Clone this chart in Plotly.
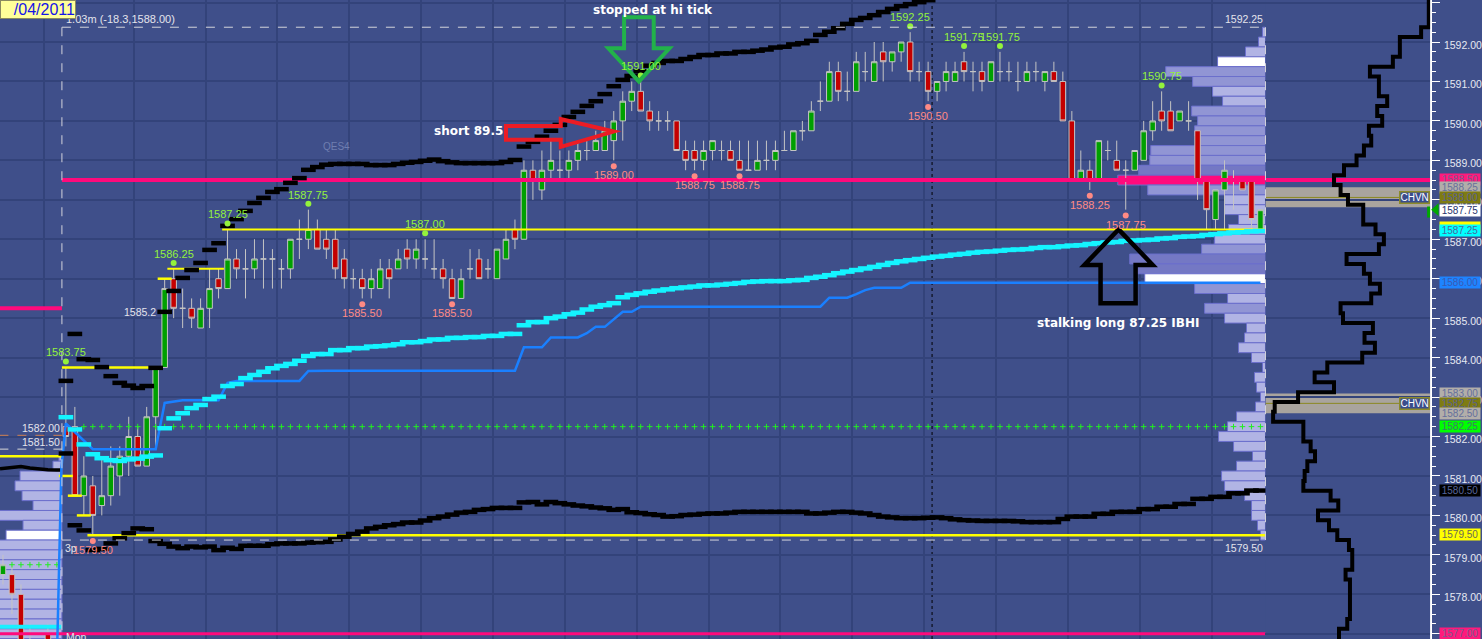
import numpy as np
import plotly.graph_objects as go

# ---------------- data ----------------
bar_index = list(range(134))
opens = [1582.25, 1582.25, 1580.5, 1580.75, 1580.25, 1580.5, 1581.0, 1581.5, 1582.0, 1581.25,
         1582.5, 1583.75, 1586.0, 1585.25, 1585.25, 1584.75, 1585.25, 1586.0, 1585.75, 1586.5,
         1586.25, 1586.25, 1586.5, 1586.5, 1586.25, 1586.25, 1587.0, 1587.0, 1587.25, 1587.0,
         1587.0, 1586.5, 1586.0, 1586.0, 1585.75, 1585.75, 1586.25, 1586.25, 1586.75, 1586.5,
         1586.5, 1586.25, 1586.25, 1586.0, 1585.5, 1586.25, 1586.5, 1586.25, 1586.0, 1586.5,
         1587.25, 1587.0, 1588.75, 1588.25, 1588.75, 1588.75, 1588.75, 1589.0, 1589.25, 1589.25,
         1589.25, 1589.5, 1590.0, 1590.5, 1590.75, 1590.25, 1590.0, 1590.0, 1590.0, 1589.25,
         1589.25, 1589.0, 1589.25, 1589.25, 1589.25, 1589.0, 1588.75, 1588.75, 1589.0, 1589.0,
         1589.25, 1589.25, 1589.75, 1589.75, 1590.5, 1590.5, 1591.25, 1590.75, 1590.75, 1591.25,
         1591.0, 1591.75, 1591.5, 1591.75, 1592.0, 1591.25, 1591.25, 1590.75, 1591.0, 1591.0,
         1591.5, 1591.25, 1591.25, 1591.0, 1591.25, 1591.25, 1591.0, 1591.0, 1591.25, 1591.0,
         1591.25, 1591.0, 1590.0, 1588.5, 1588.75, 1588.5, 1589.25, 1589.0, 1588.75, 1588.75,
         1589.0, 1589.75, 1590.25, 1590.25, 1590.0, 1590.0, 1589.75, 1588.5, 1587.5, 1588.25,
         1588.5, 1588.5, 1588.5, 1587.25]
highs = [1583.75, 1582.75, 1581.5, 1581.0, 1581.5, 1581.75, 1581.75, 1582.5, 1582.25, 1582.75,
         1583.75, 1586.0, 1586.25, 1585.75, 1585.5, 1585.5, 1586.25, 1586.25, 1587.25, 1586.75,
         1586.75, 1587.0, 1587.0, 1586.75, 1586.5, 1587.0, 1587.5, 1587.75, 1587.5, 1587.25,
         1587.25, 1586.75, 1586.25, 1586.25, 1586.25, 1586.5, 1586.5, 1586.75, 1587.0, 1587.0,
         1587.0, 1587.0, 1586.5, 1586.25, 1586.25, 1586.75, 1586.75, 1586.5, 1586.75, 1587.25,
         1587.5, 1589.0, 1589.0, 1589.25, 1589.5, 1589.25, 1589.25, 1589.5, 1589.5, 1589.75,
         1590.0, 1590.25, 1590.75, 1591.0, 1591.0, 1590.5, 1590.25, 1590.25, 1590.0, 1589.5,
         1589.5, 1589.5, 1589.5, 1589.5, 1589.5, 1589.5, 1589.5, 1589.5, 1589.5, 1589.5,
         1589.75, 1589.75, 1590.0, 1590.5, 1591.0, 1591.5, 1591.5, 1591.25, 1591.75, 1591.75,
         1592.0, 1592.0, 1591.75, 1592.0, 1592.25, 1591.5, 1591.5, 1591.0, 1591.5, 1591.5,
         1591.75, 1591.5, 1591.5, 1591.5, 1591.75, 1591.5, 1591.5, 1591.5, 1591.5, 1591.25,
         1591.5, 1591.25, 1590.25, 1589.25, 1589.0, 1589.5, 1589.5, 1589.5, 1589.0, 1589.25,
         1590.0, 1590.5, 1590.75, 1590.5, 1590.25, 1590.5, 1589.75, 1588.5, 1588.25, 1589.0,
         1588.75, 1588.5, 1588.5, 1587.75]
lows = [1581.75, 1580.5, 1580.0, 1579.5, 1580.0, 1580.25, 1580.5, 1581.0, 1581.25, 1581.25,
        1581.75, 1583.75, 1585.0, 1584.75, 1584.75, 1584.75, 1584.75, 1585.5, 1585.75, 1586.0,
        1585.5, 1586.0, 1585.75, 1585.75, 1585.75, 1586.0, 1586.5, 1586.75, 1586.75, 1586.5,
        1586.0, 1585.75, 1585.75, 1585.5, 1585.5, 1585.75, 1585.5, 1586.25, 1586.25, 1586.25,
        1586.25, 1586.0, 1585.75, 1585.5, 1585.5, 1586.0, 1586.0, 1586.0, 1586.0, 1586.5,
        1586.75, 1587.0, 1588.0, 1588.0, 1588.5, 1588.5, 1588.5, 1588.75, 1589.0, 1589.25,
        1589.25, 1589.0, 1589.5, 1590.25, 1590.25, 1589.75, 1589.75, 1589.75, 1589.25, 1588.75,
        1588.75, 1588.75, 1589.0, 1589.0, 1589.0, 1588.75, 1588.75, 1588.75, 1588.75, 1588.75,
        1589.25, 1589.25, 1589.5, 1589.75, 1590.25, 1590.5, 1590.5, 1590.5, 1590.75, 1591.0,
        1591.0, 1591.0, 1591.25, 1591.5, 1591.0, 1591.0, 1590.5, 1590.5, 1590.75, 1591.0,
        1591.0, 1590.75, 1590.75, 1591.0, 1591.0, 1591.0, 1590.75, 1591.0, 1591.0, 1590.75,
        1591.0, 1590.0, 1588.5, 1588.5, 1588.25, 1588.5, 1589.0, 1588.75, 1587.75, 1588.75,
        1589.0, 1589.5, 1589.75, 1589.75, 1590.0, 1589.75, 1588.0, 1587.25, 1587.25, 1587.25,
        1587.75, 1588.25, 1587.25, 1587.25]
closes = [1582.0, 1580.5, 1581.0, 1580.0, 1580.5, 1581.25, 1581.5, 1582.0, 1581.25, 1582.5,
          1583.75, 1585.75, 1585.25, 1585.25, 1585.0, 1585.25, 1585.75, 1585.75, 1586.5, 1586.25,
          1586.25, 1586.5, 1586.5, 1586.5, 1586.25, 1587.0, 1587.0, 1587.25, 1586.75, 1586.75,
          1586.25, 1586.0, 1586.0, 1585.75, 1586.0, 1586.25, 1586.0, 1586.5, 1586.5, 1586.75,
          1586.5, 1586.25, 1586.0, 1585.5, 1586.0, 1586.25, 1586.0, 1586.25, 1586.75, 1587.0,
          1587.0, 1588.75, 1588.5, 1588.75, 1589.0, 1588.75, 1589.0, 1589.25, 1589.25, 1589.5,
          1589.75, 1590.0, 1590.5, 1590.75, 1590.25, 1590.0, 1590.0, 1590.0, 1589.25, 1589.0,
          1589.0, 1589.25, 1589.5, 1589.25, 1589.0, 1588.75, 1588.75, 1589.0, 1589.0, 1589.25,
          1589.25, 1589.75, 1589.75, 1590.25, 1590.5, 1591.25, 1590.75, 1590.75, 1591.5, 1591.25,
          1591.5, 1591.5, 1591.75, 1592.0, 1591.25, 1591.25, 1590.75, 1591.0, 1591.25, 1591.25,
          1591.25, 1591.25, 1591.0, 1591.5, 1591.25, 1591.25, 1591.0, 1591.25, 1591.25, 1591.25,
          1591.0, 1590.0, 1588.5, 1588.75, 1588.5, 1589.5, 1589.25, 1588.75, 1588.75, 1589.25,
          1589.75, 1590.0, 1590.0, 1589.75, 1590.25, 1590.0, 1588.5, 1587.75, 1588.25, 1588.75,
          1588.5, 1588.25, 1587.5, 1587.75]

# previous session (left edge)
prev_index = [-7, -6, -5, -4, -2]
prev_open = [1578.5, 1578.5, 1578.0, 1576.75, 1577.0]
prev_high = [1579.0, 1578.75, 1578.25, 1577.25, 1577.25]
prev_low = [1578.25, 1577.5, 1576.25, 1576.25, 1576.25]
prev_close = [1578.75, 1578.0, 1576.5, 1576.5, 1576.5]

upper_band = [1583.41, 1584.60, 1583.96, 1583.94, 1583.76, 1583.53, 1583.36, 1583.29, 1583.23, 1583.28,
              1583.74, 1585.16, 1585.69, 1586.02, 1586.22, 1586.40, 1586.73, 1586.90, 1587.34, 1587.51,
              1587.72, 1587.92, 1588.05, 1588.20, 1588.27, 1588.43, 1588.55, 1588.76, 1588.83, 1588.89,
              1588.91, 1588.91, 1588.91, 1588.91, 1588.88, 1588.88, 1588.88, 1588.91, 1588.94, 1588.96,
              1588.99, 1589.02, 1588.98, 1588.95, 1588.93, 1588.93, 1588.93, 1588.93, 1588.93, 1588.96,
              1589.01, 1589.35, 1589.47, 1589.60, 1589.75, 1589.90, 1590.10, 1590.23, 1590.38, 1590.50,
              1590.68, 1590.88, 1591.04, 1591.14, 1591.26, 1591.40, 1591.47, 1591.52, 1591.52, 1591.57,
              1591.62, 1591.67, 1591.67, 1591.71, 1591.71, 1591.75, 1591.75, 1591.78, 1591.81, 1591.86,
              1591.88, 1591.94, 1591.97, 1592.03, 1592.18, 1592.26, 1592.35, 1592.46, 1592.56, 1592.61,
              1592.68, 1592.76, 1592.84, 1592.91, 1592.96, 1593.01, 1593.06]
lower_band = [1581.57, 1579.75, 1579.62, 1579.12, 1579.15, 1579.29, 1579.42, 1579.55, 1579.67, 1579.65,
              1579.35, 1579.28, 1579.21, 1579.17, 1579.21, 1579.19, 1579.21, 1579.12, 1579.18, 1579.15,
              1579.23, 1579.23, 1579.23, 1579.27, 1579.29, 1579.29, 1579.29, 1579.31, 1579.32, 1579.33,
              1579.39, 1579.46, 1579.53, 1579.59, 1579.67, 1579.71, 1579.75, 1579.78, 1579.82, 1579.82,
              1579.87, 1579.93, 1579.97, 1580.02, 1580.07, 1580.09, 1580.14, 1580.16, 1580.19, 1580.19,
              1580.19, 1580.33, 1580.34, 1580.28, 1580.34, 1580.31, 1580.28, 1580.25, 1580.23, 1580.20,
              1580.18, 1580.14, 1580.16, 1580.08, 1580.06, 1580.03, 1580.01, 1579.97, 1579.98, 1580.01,
              1580.02, 1580.04, 1580.05, 1580.05, 1580.07, 1580.09, 1580.09, 1580.09, 1580.09, 1580.09,
              1580.09, 1580.09, 1580.09, 1580.05, 1580.05, 1580.07, 1580.09, 1580.09, 1580.07, 1580.05,
              1580.01, 1579.97, 1579.95, 1579.93, 1579.93, 1579.93, 1579.94, 1579.95, 1579.93, 1579.90,
              1579.88, 1579.87, 1579.86, 1579.86, 1579.86, 1579.86, 1579.85, 1579.83, 1579.83, 1579.83,
              1579.83, 1579.91, 1579.97, 1579.97, 1579.97, 1580.04, 1580.04, 1580.09, 1580.09, 1580.09,
              1580.16, 1580.16, 1580.22, 1580.22, 1580.29, 1580.29, 1580.42, 1580.42, 1580.47, 1580.47,
              1580.56, 1580.56, 1580.63, 1580.63]
vwap = [1582.49, 1582.18, 1581.80, 1581.55, 1581.45, 1581.40, 1581.38, 1581.42, 1581.44, 1581.49,
        1581.52, 1582.21, 1582.46, 1582.59, 1582.72, 1582.80, 1582.95, 1583.01, 1583.28, 1583.33,
        1583.48, 1583.56, 1583.64, 1583.73, 1583.79, 1583.84, 1583.92, 1584.04, 1584.09, 1584.09,
        1584.19, 1584.19, 1584.24, 1584.24, 1584.28, 1584.29, 1584.31, 1584.34, 1584.39, 1584.39,
        1584.42, 1584.46, 1584.46, 1584.50, 1584.50, 1584.52, 1584.52, 1584.55, 1584.55, 1584.60,
        1584.60, 1584.82, 1584.90, 1584.90, 1585.00, 1585.04, 1585.10, 1585.14, 1585.22, 1585.29,
        1585.33, 1585.38, 1585.53, 1585.59, 1585.63, 1585.67, 1585.70, 1585.73, 1585.76, 1585.78,
        1585.80, 1585.83, 1585.83, 1585.85, 1585.87, 1585.89, 1585.92, 1585.93, 1585.94, 1585.94,
        1585.94, 1585.96, 1585.97, 1586.02, 1586.05, 1586.09, 1586.14, 1586.18, 1586.22, 1586.26,
        1586.30, 1586.35, 1586.40, 1586.44, 1586.47, 1586.50, 1586.53, 1586.56, 1586.58, 1586.61,
        1586.63, 1586.66, 1586.68, 1586.69, 1586.71, 1586.73, 1586.74, 1586.75, 1586.78, 1586.80,
        1586.80, 1586.82, 1586.84, 1586.85, 1586.88, 1586.90, 1586.92, 1586.93, 1586.96, 1586.97,
        1586.98, 1586.99, 1587.02, 1587.03, 1587.06, 1587.07, 1587.08, 1587.11, 1587.13, 1587.15,
        1587.17, 1587.18, 1587.20, 1587.21]
blue_line = [1582.33, 1582.11, 1581.89, 1581.68, 1581.68, 1581.68, 1581.68, 1581.68, 1581.68, 1581.68,
             1581.68, 1582.85, 1582.88, 1582.92, 1582.92, 1582.92, 1582.92, 1582.92, 1583.36, 1583.41,
             1583.41, 1583.41, 1583.41, 1583.41, 1583.41, 1583.41, 1583.41, 1583.66, 1583.67, 1583.67,
             1583.67, 1583.67, 1583.67, 1583.67, 1583.67, 1583.67, 1583.67, 1583.67, 1583.67, 1583.67,
             1583.67, 1583.67, 1583.67, 1583.67, 1583.67, 1583.67, 1583.67, 1583.67, 1583.67, 1583.67,
             1583.67, 1584.26, 1584.26, 1584.26, 1584.51, 1584.51, 1584.51, 1584.51, 1584.62, 1584.78,
             1584.78, 1584.98, 1585.16, 1585.16, 1585.29, 1585.29, 1585.29, 1585.29, 1585.29, 1585.29,
             1585.29, 1585.29, 1585.29, 1585.29, 1585.29, 1585.29, 1585.29, 1585.29, 1585.29, 1585.29,
             1585.29, 1585.29, 1585.29, 1585.29, 1585.29, 1585.52, 1585.52, 1585.52, 1585.61, 1585.71,
             1585.77, 1585.77, 1585.77, 1585.77, 1585.90, 1585.90, 1585.90, 1585.90, 1585.90, 1585.90,
             1585.90, 1585.90, 1585.90, 1585.90, 1585.90, 1585.90, 1585.90, 1585.90, 1585.90, 1585.90,
             1585.90, 1585.90, 1585.90, 1585.90, 1585.90, 1585.90, 1585.90, 1585.90, 1585.90, 1585.90,
             1585.90, 1585.90, 1585.90, 1585.90, 1585.90, 1585.90, 1585.90, 1585.90, 1585.90, 1585.90,
             1585.90, 1585.90, 1585.90, 1585.90]
blue_prev_index = [-0.95, -0.5]
blue_prev = [1576.80, 1581.20]
prev_band_index = [-7.33, -6, -5, -4, -3, -2, -1, -0.44]
prev_band = [1581.18, 1581.22, 1581.24, 1581.20, 1581.17, 1581.16, 1581.15, 1581.15]
prev_vwap = 1577.18

# volume profile (main session) and previous session profile
profile_volume = [3, 7, 20, 48, 100, 73, 53, 43, 74, 68,
                  71, 70, 115, 116, 127, 148, 118, 41, 41, 27,
                  37, 51, 64, 136, 128, 121, 71, 38, 61, 41,
                  19, 21, 27, 14, 3, 11, 9, 5, 10, 29,
                  38, 47, 32, 13, 29, 44, 41, 21, 14, 14,
                  8, 5]
profile_top, profile_bottom = 1592.25, 1579.50
prev_profile_volume = [3, 9, 42, 47, 40, 29, 70, 39, 56, 70,
                       70, 70, 70, 70, 70, 70, 70, 70, 70, 70]
prev_profile_top = 1581.50

# TPO-style profile in the right panel
tpo_top = 1593.0
tpo_count = [163.7, 163.7, 163.7, 156, 134.7, 134.7, 127.7, 104.7, 113.7, 113.7,
             122, 112, 117, 103.7, 106, 98.7, 91.3, 78.7, 68.7, 75.3,
             82.7, 98, 98, 110.3, 118.7, 113.7, 81.3, 98.7, 104.7, 114.7,
             106, 75.3, 77.7, 107.7, 99.3, 109.7, 97, 62, 49.3, 68.7,
             32.7, 9.3, 7.7, 38, 38, 45.3, 49.7, 42, 39.3, 38,
             65.3, 73, 52.7, 63.7, 72, 83.7, 87, 87, 80.3, 84.7,
             84.7, 84.7, 84.7, 82, 73.7, 73.7]

high_label_bars = [0, 12, 18, 27, 40, 64, 94, 100, 104, 122]
low_label_bars = [3, 33, 43, 61, 70, 75, 96, 114, 118]

# reference levels: price, start bar, end bar, colour, width
level_price = [1588.50, 1577.00, 1585.25, 1587.25, 1586.25, 1583.75, 1579.50, 1581.50]
level_start = [-0.44, -7.4, -7.4, 17.4, 11.3, -0.44, 2.4, -7.4]
level_end = [151.9, 151.9, -0.44, 133.56, 17.6, 10.7, 133.56, -0.44]
level_color = ['#ff0a7c', '#ff0a7c', '#ff0a7c', '#ffff00', '#ffff00', '#ffff00', '#ffff00', '#ffff00']
level_width = [4, 3, 4, 2, 2, 2.5, 2.5, 2.5]
mini_tick_bar = [0, 1, 2, 11]
mini_tick_price = [1581.0, 1580.5, 1580.0, 1586.0]
green_dot_level = 1582.25
prev_green_dot_level = 1578.75

chvn_bands = [(1587.81, 1588.32, 1588.06), (1582.59, 1583.09, 1582.84)]

axis_labels = [(1588.52, '1588.50', '#ff1a7c', '#7b5c8e'),
               (1588.31, '1588.25', '#b2aea9', '#66709c'),
               (1588.06, '1588.00', '#7e7b12', '#59618d'),
               (1587.74, '1587.75', '#ffffff', '#27336e'),
               (1587.30, '', '#ffff00', '#ffff00'),
               (1587.21, '1587.25', '#00ffff', '#4a67a0'),
               (1585.90, '1586.00', '#1e84ff', '#3a5ab4'),
               (1583.09, '1583.00', '#b2aea9', '#66709c'),
               (1582.84, '1582.75', '#7e7b12', '#59618d'),
               (1582.59, '1582.50', '#b2aea9', '#66709c'),
               (1582.25, '1582.25', '#00ff00', '#3f7a6a'),
               (1580.63, '1580.50', '#000000', '#56649a'),
               (1579.52, '1579.50', '#ffff00', '#6a6a55'),
               (1577.00, '1577.00', '#ff1a7c', '#7b5c8e')]

# ---------------- geometry / style ----------------
W, H = 1482, 639
AXIS_X = 1433 / W
TPO_X = 1268 / W
X_LEFT, X_RIGHT = -7.3333, 151.8889
Y_LOW, Y_HIGH = 1576.867, 1593.065
PROFILE_EDGE = 133.56
SESSION_EDGE = -0.44
VOL_SCALE = 1 / 9.0
TICK = 0.25
BG = '#3f4f8a'
GRID = '#33437a'
LIME = '#93f23c'
SALMON = '#ff8a84'
LABEL_FONT = 'Liberation Sans'

opens_a, highs_a, lows_a, closes_a = map(np.array, (opens, highs, lows, closes))

fig = go.Figure()

# profile bars
prof_prices = profile_top - TICK * np.arange(len(profile_volume))
vol = np.array(profile_volume, float)
prof_colors = []
for k, v in enumerate(vol):
    if v >= 125:
        prof_colors.append('#7478c4')
    elif v >= 60:
        prof_colors.append('#9195d4')
    else:
        prof_colors.append('#b1b4e4')
poc_k = int(np.argmax(vol))
prof_colors[poc_k] = '#ff0a7c'
for k in (3, 25):
    prof_colors[k] = '#ffffff'
fig.add_trace(go.Bar(orientation='h', y=prof_prices, x=vol * VOL_SCALE,
                     base=PROFILE_EDGE - vol * VOL_SCALE, width=TICK,
                     marker=dict(color=prof_colors, line=dict(color='#6b6fcc', width=1)),
                     hoverinfo='skip'))
pv = np.array(prev_profile_volume, float)
pprices = prev_profile_top - TICK * np.arange(len(pv))
pcol = ['#b1b4e4'] * len(pv)
pcol[8] = '#ffffff'
fig.add_trace(go.Bar(orientation='h', y=pprices, x=pv * VOL_SCALE,
                     base=SESSION_EDGE - pv * VOL_SCALE, width=TICK,
                     marker=dict(color=pcol, line=dict(color='#6b6fcc', width=1)),
                     hoverinfo='skip'))

# candles
fig.add_trace(go.Candlestick(
    x=prev_index + bar_index,
    open=prev_open + opens, high=prev_high + highs,
    low=prev_low + lows, close=prev_close + closes,
    increasing=dict(fillcolor='#00a000', line=dict(color='#c4c4c4', width=1)),
    decreasing=dict(fillcolor='#c40000', line=dict(color='#c4c4c4', width=1)),
    whiskerwidth=0, hoverinfo='skip'))

# level lines
for p, s, e, c, w in zip(level_price, level_start, level_end, level_color, level_width):
    fig.add_trace(go.Scatter(x=[s, e], y=[p, p], mode='lines',
                             line=dict(color=c, width=w), hoverinfo='skip'))
fig.add_trace(go.Scatter(x=mini_tick_bar, y=mini_tick_price, mode='markers',
                         marker=dict(symbol='line-ew', size=10, line=dict(color='#ffff00', width=2.5)),
                         hoverinfo='skip'))

# green dotted levels (hidden under candle bodies)
bmin = np.minimum(opens_a, closes_a)
bmax = np.maximum(opens_a, closes_a)
gx = [i for i in bar_index if not (bmin[i] <= green_dot_level <= bmax[i])]
fig.add_trace(go.Scatter(x=gx, y=[green_dot_level] * len(gx), mode='markers',
                         marker=dict(symbol='cross-thin', size=4, line=dict(color='#22ee22', width=1)),
                         hoverinfo='skip'))
px_ = [-6, -5, -4, -3, -2, -1]
fig.add_trace(go.Scatter(x=px_, y=[prev_green_dot_level] * len(px_), mode='markers',
                         marker=dict(symbol='cross-thin', size=4, line=dict(color='#22ee22', width=1)),
                         hoverinfo='skip'))

# previous session lines
fig.add_trace(go.Scatter(x=prev_band_index, y=prev_band, mode='lines',
                         line=dict(color='black', width=3.5), hoverinfo='skip'))
fig.add_trace(go.Scatter(x=[-7.4, SESSION_EDGE], y=[prev_vwap, prev_vwap], mode='lines',
                         line=dict(color='#19f0ff', width=4), hoverinfo='skip'))
fig.add_trace(go.Scatter(x=[-7.4, SESSION_EDGE], y=[1582.03, 1582.03], mode='lines',
                         line=dict(color='#d08050', width=1, dash='dash'), hoverinfo='skip'))
fig.add_trace(go.Scatter(x=[-7.4, SESSION_EDGE], y=[1581.68, 1581.68], mode='lines',
                         line=dict(color='#d8d8d8', width=1, dash='dash'), hoverinfo='skip'))

# blue developing line
fig.add_trace(go.Scatter(x=blue_prev_index + bar_index, y=blue_prev + blue_line, mode='lines',
                         line=dict(color='#1a80ff', width=2.5), hoverinfo='skip'))

# VWAP (cyan) and bands (black) as per-bar dashes
fig.add_trace(go.Scatter(x=bar_index, y=vwap, mode='markers',
                         marker=dict(symbol='line-ew', size=10.5, line=dict(color='#14f4ff', width=4.5)),
                         hoverinfo='skip'))
fig.add_trace(go.Scatter(x=list(range(len(upper_band))), y=upper_band, mode='markers',
                         marker=dict(symbol='line-ew', size=10.5, line=dict(color='black', width=4.5)),
                         hoverinfo='skip'))
fig.add_trace(go.Scatter(x=bar_index, y=lower_band, mode='markers',
                         marker=dict(symbol='line-ew', size=10.5, line=dict(color='black', width=4.5)),
                         hoverinfo='skip'))

# swing high / low dots
hx = high_label_bars
hy = [highs[i] + 0.15 for i in hx]
fig.add_trace(go.Scatter(x=hx, y=hy, mode='markers', marker=dict(color=LIME, size=6),
                         hoverinfo='skip'))
lx = low_label_bars
ly = [lows[i] - 0.15 for i in lx]
fig.add_trace(go.Scatter(x=lx, y=ly, mode='markers', marker=dict(color=SALMON, size=6),
                         hoverinfo='skip'))

# TPO line on the right panel
tpo_levels = tpo_top - TICK * np.arange(len(tpo_count))
tx, ty = [], []
for p, v in zip(tpo_levels, tpo_count):
    tx += [v, v]
    ty += [p + TICK / 2, p - TICK / 2]
fig.add_trace(go.Scatter(x=tx, y=ty, mode='lines', xaxis='x2', yaxis='y',
                         line=dict(color='black', width=4), hoverinfo='skip'))

# ---------------- shapes ----------------
shapes = []
for lo, hi, mid in chvn_bands:
    shapes.append(dict(type='rect', xref='x2', yref='y', x0=0, x1=165, y0=lo, y1=hi,
                       fillcolor='#a9a49e', line=dict(width=0), layer='below'))
    shapes.append(dict(type='line', xref='x2', yref='y', x0=0, x1=165, y0=mid, y1=mid,
                       line=dict(color='#8c8822', width=1), layer='below'))
# TPO panel continuation of the pink level
shapes.append(dict(type='line', xref='x2', yref='y', x0=0, x1=165, y0=1588.5, y1=1588.5,
                   line=dict(color='#ff0a7c', width=4), layer='below'))
box_top = profile_top + TICK / 2
box_bot = profile_bottom - TICK / 2
dash = dict(color='#d4d4dc', width=1, dash='dash')
shapes += [
    dict(type='line', x0=SESSION_EDGE, x1=PROFILE_EDGE, y0=box_top, y1=box_top, line=dash, layer='above'),
    dict(type='line', x0=SESSION_EDGE, x1=PROFILE_EDGE, y0=box_bot, y1=box_bot, line=dash, layer='above'),
    dict(type='line', x0=SESSION_EDGE, x1=SESSION_EDGE, y0=box_top, y1=Y_LOW, line=dash, layer='above'),
    dict(type='line', x0=PROFILE_EDGE, x1=PROFILE_EDGE, y0=box_top, y1=box_bot, line=dash, layer='above'),
    dict(type='line', x0=96.44, x1=96.44, y0=Y_LOW, y1=Y_HIGH,
         line=dict(color='black', width=1, dash='dot'), layer='below'),
]


def poly(pts):
    return 'M ' + ' L '.join(f'{x:.3f},{y:.3f}' for x, y in pts) + ' Z'


# green "stopped" arrow pointing at the high of bar 64
gx0, gy0 = 63.8, highs[64]
shapes.append(dict(type='path', layer='above', line=dict(color='#22b24a', width=4),
                   path=poly([(gx0 - 1.65, gy0 + 1.63), (gx0 + 1.65, gy0 + 1.63), (gx0 + 1.65, gy0 + 0.84),
                              (gx0 + 3.4, gy0 + 0.84), (gx0, gy0), (gx0 - 3.4, gy0 + 0.84),
                              (gx0 - 1.65, gy0 + 0.84)])))
# red "short" arrow
rx0, ry0 = 61.0, 1589.73
shapes.append(dict(type='path', layer='above', line=dict(color='#ec1c24', width=4),
                   path=poly([(rx0 - 12.0, ry0 + 0.14), (rx0 - 5.9, ry0 + 0.14), (rx0 - 5.9, ry0 + 0.32),
                              (rx0, ry0), (rx0 - 5.9, ry0 - 0.39), (rx0 - 5.9, ry0 - 0.21),
                              (rx0 - 12.0, ry0 - 0.21)])))
# black "stalking long" arrow pointing at IB high
bx0, by0 = 117.2, level_price[3]
shapes.append(dict(type='path', layer='above', line=dict(color='black', width=4.5),
                   path=poly([(bx0, by0), (bx0 + 3.8, by0 - 0.9), (bx0 + 1.9, by0 - 0.9),
                              (bx0 + 1.9, by0 - 1.87), (bx0 - 2.0, by0 - 1.87), (bx0 - 2.0, by0 - 0.9),
                              (bx0 - 3.8, by0 - 0.9)])))
# green current-price pointer on the axis
cp = closes[-1]
shapes.append(dict(type='path', xref='paper', yref='y', layer='above',
                   fillcolor='#00a800', line=dict(width=0),
                   path=f'M {1441.5 / W:.5f},{cp + 0.16:.3f} L {1434 / W:.5f},{cp:.3f} '
                        f'L {1441.5 / W:.5f},{cp - 0.16:.3f} Z'))
shapes.append(dict(type='rect', xref='paper', yref='y', layer='above',
                   x0=1430 / W, x1=1433 / W, y0=cp - 0.2, y1=cp + 0.08,
                   fillcolor='#00a800', line=dict(width=0)))

# ---------------- annotations ----------------
ann = []
for i in high_label_bars:
    ann.append(dict(x=i, y=highs[i], text=f'{highs[i]:.2f}', showarrow=False, yshift=15,
                    font=dict(color=LIME, size=11, family=LABEL_FONT)))
for i in low_label_bars:
    ann.append(dict(x=i, y=lows[i], text=f'{lows[i]:.2f}', showarrow=False, yshift=-15,
                    font=dict(color=SALMON, size=11, family=LABEL_FONT)))
bold = dict(color='white', size=12, family='DejaVu Sans')
ann += [
    dict(x=65.4, y=1592.81, text='<b>stopped at hi tick</b>', showarrow=False, font=bold),
    dict(x=48.9, y=1589.74, text='<b>short 89.5</b>', showarrow=False, xanchor='right', font=bold),
    dict(x=117.1, y=1584.88, text='<b>stalking long 87.25 IBHI</b>', showarrow=False, font=bold),
    dict(x=-0.25, y=box_top, yshift=8, xanchor='left', text='1.03m (-18.3,1588.00)', showarrow=False,
         font=dict(color='#e4e4ec', size=11, family=LABEL_FONT)),
    dict(x=PROFILE_EDGE, y=box_top, yshift=8, xanchor='right', text=f'{profile_top:.2f}', showarrow=False,
         font=dict(color='#e4e4ec', size=10.5, family=LABEL_FONT)),
    dict(x=PROFILE_EDGE, y=box_bot, yshift=-8, xanchor='right', text=f'{profile_bottom:.2f}', showarrow=False,
         font=dict(color='#e4e4ec', size=10.5, family=LABEL_FONT)),
    dict(x=SESSION_EDGE, y=1582.03, yshift=7, xanchor='right', text='1582.00', showarrow=False,
         font=dict(color='#e4e4ec', size=10.5, family=LABEL_FONT)),
    dict(x=SESSION_EDGE, y=1581.68, yshift=7, xanchor='right', text='1581.50', showarrow=False,
         font=dict(color='#e4e4ec', size=10.5, family=LABEL_FONT)),
    dict(x=10.3, y=1585.16, xanchor='right', text='1585.2', showarrow=False,
         font=dict(color='#e4e4ec', size=10.5, family=LABEL_FONT)),
    dict(x=SESSION_EDGE + 0.1, y=1579.17, xanchor='left', text='3p', showarrow=False,
         font=dict(color='#e4e4ec', size=10.5, family=LABEL_FONT)),
    dict(x=SESSION_EDGE + 0.2, y=1576.93, xanchor='left', text='Mon', showarrow=False,
         font=dict(color='#e4e4ec', size=10.5, family=LABEL_FONT)),
    dict(x=30.1, y=1589.34, text='QES4', showarrow=False,
         font=dict(color='#6f7eb0', size=10, family=LABEL_FONT)),
    dict(xref='paper', yref='paper', x=0, y=1, xanchor='left', yanchor='top', text='/04/2011',
         showarrow=False, bgcolor='#ffff99', bordercolor='#8a8a60', borderwidth=1, borderpad=0,
         width=74, height=17, align='right',
         font=dict(color='#1414e6', size=16, family=LABEL_FONT)),
]
for lo, hi, mid in chvn_bands:
    ann.append(dict(xref='x2', yref='y', x=164.5, y=mid, xanchor='right', text='CHVN', showarrow=False,
                    bgcolor='#3a4c8c', bordercolor='#8c8a2a', borderwidth=1.5, borderpad=0,
                    height=10, font=dict(color='white', size=10, family=LABEL_FONT)))
for p, t, bg, fg in axis_labels:
    ann.append(dict(xref='paper', yref='y', x=1442 / W, y=p, xanchor='left', text=t, showarrow=False,
                    bgcolor=bg, borderpad=0, width=40, height=11, align='center',
                    font=dict(color=fg, size=10, family=LABEL_FONT)))

grid_bars = [-2.44] + [7.56 + 8 * k for k in range(16)]

fig.update_layout(
    width=W, height=H, margin=dict(l=0, r=0, t=0, b=0),
    paper_bgcolor=BG, plot_bgcolor=BG, showlegend=False, hovermode=False,
    boxgap=0.12, barmode='overlay',
    shapes=shapes, annotations=ann,
    xaxis=dict(domain=[0, AXIS_X], range=[X_LEFT, X_RIGHT], tickvals=grid_bars,
               showticklabels=False, showgrid=True, gridcolor=GRID, gridwidth=1.5,
               zeroline=False, ticks='', rangeslider=dict(visible=False), fixedrange=True),
    xaxis2=dict(domain=[TPO_X, AXIS_X], range=[0, 165], anchor='y', showgrid=False,
                showticklabels=False, zeroline=False, ticks='', fixedrange=True),
    yaxis=dict(range=[Y_LOW, Y_HIGH], side='right', anchor='x', dtick=1, tick0=0,
               tickformat='.2f', ticks='outside', ticklen=8, tickwidth=1, tickcolor='white',
               showline=True, linecolor='white', linewidth=1.5, showgrid=True, gridcolor=GRID,
               gridwidth=1.5, zeroline=False, ticklabelstandoff=2, ticklabelshift=3,
               tickfont=dict(color='#e6e9f2', size=10.5, family=LABEL_FONT),
               minor=dict(dtick=0.25, ticks='outside', ticklen=4, tickcolor='white', showgrid=False),
               fixedrange=True),
)

fig.write_html("out.html", config={'displayModeBar': False},
               post_script="document.body.style.margin='0';document.body.style.overflow='hidden';")
